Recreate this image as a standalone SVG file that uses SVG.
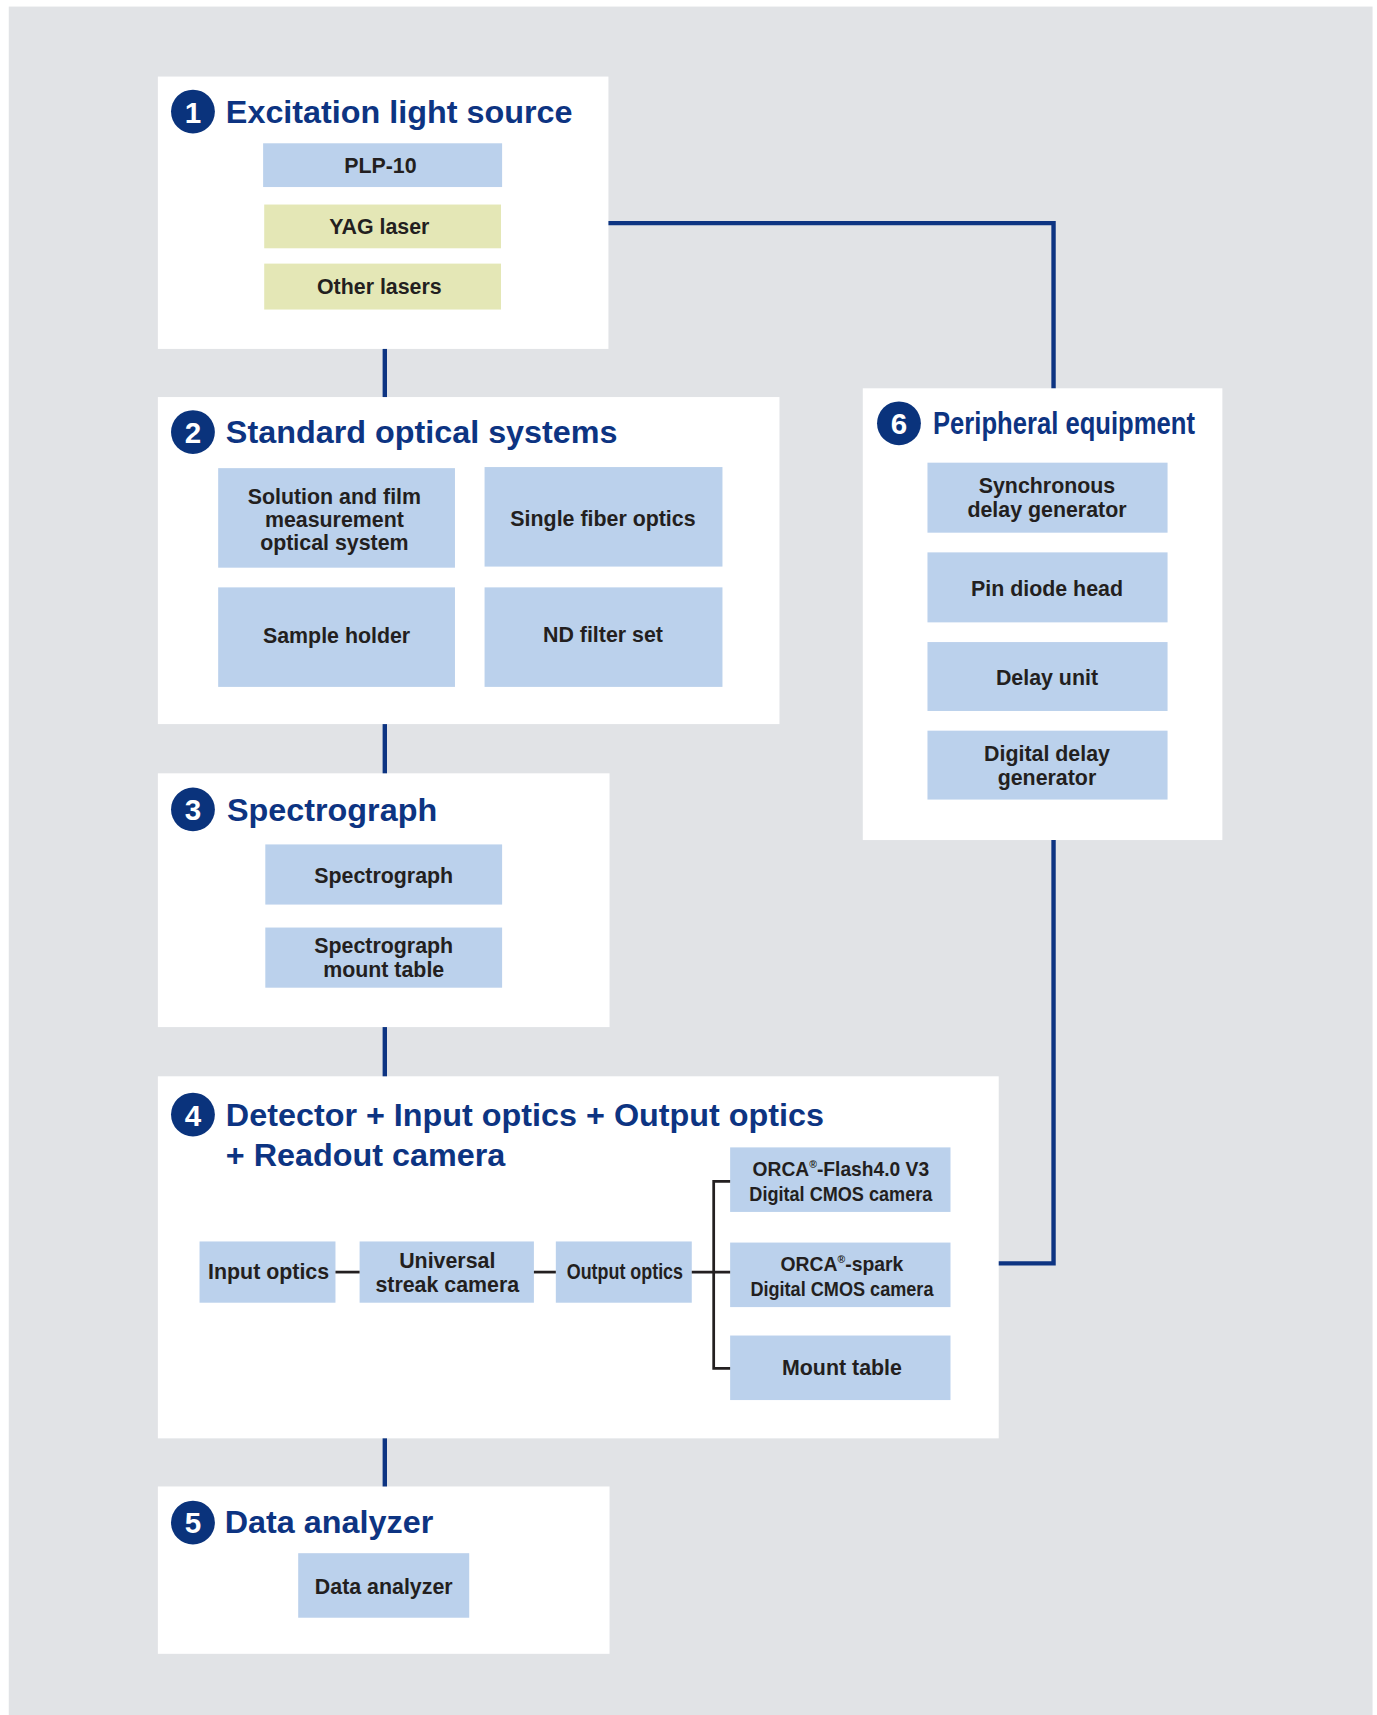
<svg xmlns="http://www.w3.org/2000/svg" width="1377" height="1715" viewBox="0 0 1377 1715">
<style>
.bg{fill:#e1e3e6}
.panel{fill:#ffffff}
.blue{fill:#bbd1ec}
.yel{fill:#e4e7b6}
.num{fill:#0a337c}
.numt{fill:#ffffff;font-family:"Liberation Sans",Arial,sans-serif;font-weight:bold;font-size:27px;text-anchor:middle}
.title{fill:#0d3482;font-family:"Liberation Sans",Arial,sans-serif;font-weight:bold;font-size:29.5px}
.lbl{fill:#231f20;font-family:"Liberation Sans",Arial,sans-serif;font-weight:bold;font-size:19.5px;text-anchor:middle}
.cond{font-size:18.5px}
.navy{fill:none;stroke:#0d3482;stroke-width:4}
.dark{fill:none;stroke:#231f20;stroke-width:2.5}
</style>
<rect width="1377" height="1715" fill="#ffffff"/>
<g transform="scale(1.0963 1.0938)">
<rect class="bg" x="8" y="6" width="1244" height="1562"/>

<g id="box1">
<rect class="panel" x="144" y="70" width="411" height="249"/>
<circle class="num" cx="176" cy="102" r="20"/>
<text class="numt" x="176" y="112">1</text>
<text class="title" x="206" y="112">Excitation light source</text>
<g id="plp10"><rect class="blue" x="240" y="131" width="218" height="40"/><text class="lbl" x="347" y="158">PLP-10</text></g>
<g id="yag"><rect class="yel" x="241" y="187" width="216" height="40"/><text class="lbl" x="346" y="214">YAG laser</text></g>
<g id="other"><rect class="yel" x="241" y="241" width="216" height="42"/><text class="lbl" x="346" y="269">Other lasers</text></g>
</g>

<g id="box2">
<rect class="panel" x="144" y="363" width="567" height="299"/>
<circle class="num" cx="176" cy="395" r="20"/>
<text class="numt" x="176" y="405">2</text>
<text class="title" x="206" y="405">Standard optical systems</text>
<g id="solution"><rect class="blue" x="199" y="428" width="216" height="91"/>
<text class="lbl" x="305" y="461">Solution and film</text>
<text class="lbl" x="305" y="482">measurement</text>
<text class="lbl" x="305" y="503">optical system</text></g>
<g id="fiber"><rect class="blue" x="442" y="427" width="217" height="91"/><text class="lbl" x="550" y="481">Single fiber optics</text></g>
<g id="sample"><rect class="blue" x="199" y="537" width="216" height="91"/><text class="lbl" x="307" y="588">Sample holder</text></g>
<g id="nd"><rect class="blue" x="442" y="537" width="217" height="91"/><text class="lbl" x="550" y="587">ND filter set</text></g>
</g>

<g id="box3">
<rect class="panel" x="144" y="707" width="412" height="232"/>
<circle class="num" cx="176" cy="740" r="20"/>
<text class="numt" x="176" y="750">3</text>
<text class="title" x="207" y="751">Spectrograph</text>
<g id="spec"><rect class="blue" x="242" y="772" width="216" height="55"/><text class="lbl" x="350" y="807">Spectrograph</text></g>
<g id="mount"><rect class="blue" x="242" y="848" width="216" height="55"/>
<text class="lbl" x="350" y="871">Spectrograph</text>
<text class="lbl" x="350" y="893">mount table</text></g>
</g>

<g id="box4">
<rect class="panel" x="144" y="984" width="767" height="331"/>
<circle class="num" cx="176" cy="1019" r="20"/>
<text class="numt" x="176" y="1029">4</text>
<text class="title" x="206" y="1029">Detector + Input optics + Output optics</text>
<text class="title" x="206" y="1066">+ Readout camera</text>
<g id="input"><rect class="blue" x="182" y="1135" width="124" height="56"/><text class="lbl" x="245" y="1169">Input optics</text></g>
<g id="streak"><rect class="blue" x="328" y="1135" width="159" height="56"/>
<text class="lbl" x="408" y="1159">Universal</text>
<text class="lbl" x="408" y="1181">streak camera</text></g>
<g id="output"><rect class="blue" x="507" y="1135" width="124" height="56"/><text class="lbl" x="570" y="1169" textLength="106" lengthAdjust="spacingAndGlyphs">Output optics</text></g>
<g id="flash"><rect class="blue" x="666" y="1049" width="201" height="59"/>
<text class="lbl cond" x="767" y="1075" textLength="161" lengthAdjust="spacingAndGlyphs">ORCA<tspan font-size="10" dy="-7">®</tspan><tspan dy="7">-Flash4.0 V3</tspan></text>
<text class="lbl cond" x="767" y="1098" textLength="167" lengthAdjust="spacingAndGlyphs">Digital CMOS camera</text></g>
<g id="spark"><rect class="blue" x="666" y="1136" width="201" height="59"/>
<text class="lbl cond" x="768" y="1162" textLength="112" lengthAdjust="spacingAndGlyphs">ORCA<tspan font-size="10" dy="-7">®</tspan><tspan dy="7">-spark</tspan></text>
<text class="lbl cond" x="768" y="1185" textLength="167" lengthAdjust="spacingAndGlyphs">Digital CMOS camera</text></g>
<g id="mounttable"><rect class="blue" x="666" y="1221" width="201" height="59"/><text class="lbl" x="768" y="1257">Mount table</text></g>
</g>

<g id="box5">
<rect class="panel" x="144" y="1359" width="412" height="153"/>
<circle class="num" cx="176" cy="1392" r="20"/>
<text class="numt" x="176" y="1402">5</text>
<text class="title" x="205" y="1402">Data analyzer</text>
<g id="analyzer"><rect class="blue" x="272" y="1420" width="156" height="59"/><text class="lbl" x="350" y="1457">Data analyzer</text></g>
</g>

<g id="box6">
<rect class="panel" x="787" y="355" width="328" height="413"/>
<circle class="num" cx="820" cy="387" r="20"/>
<text class="numt" x="820" y="397">6</text>
<text class="title" x="851" y="397" font-size="28" textLength="239" lengthAdjust="spacingAndGlyphs">Peripheral equipment</text>
<g id="sync"><rect class="blue" x="846" y="423" width="219" height="64"/>
<text class="lbl" x="955" y="451">Synchronous</text>
<text class="lbl" x="955" y="473">delay generator</text></g>
<g id="pin"><rect class="blue" x="846" y="505" width="219" height="64"/><text class="lbl" x="955" y="545">Pin diode head</text></g>
<g id="delay"><rect class="blue" x="846" y="587" width="219" height="63"/><text class="lbl" x="955" y="626">Delay unit</text></g>
<g id="digital"><rect class="blue" x="846" y="668" width="219" height="63"/>
<text class="lbl" x="955" y="696">Digital delay</text>
<text class="lbl" x="955" y="718">generator</text></g>
</g>

<g id="connectors">
<path class="navy" d="M555 204 H961 V355"/>
<path class="navy" d="M961 768 V1155 H911"/>
<path class="navy" d="M351 319 V363"/>
<path class="navy" d="M351 662 V707"/>
<path class="navy" d="M351 939 V984"/>
<path class="navy" d="M351 1315 V1359"/>
<path class="dark" d="M306 1163 H328"/>
<path class="dark" d="M487 1163 H507"/>
<path class="dark" d="M631 1163 H666"/>
<path class="dark" d="M666 1080 H651 V1251 H666"/>
</g>
</g>
</svg>
